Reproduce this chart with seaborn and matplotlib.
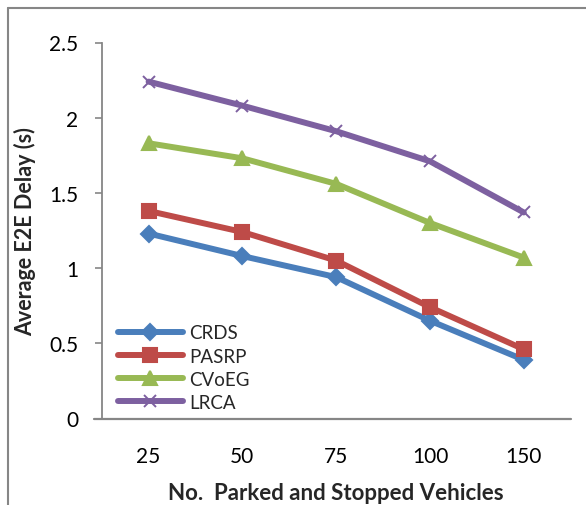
import matplotlib
matplotlib.use("Agg")
import matplotlib.pyplot as plt
from matplotlib.lines import Line2D
import seaborn as sns
import pandas as pd

categories = ["25", "50", "75", "100", "150"]
crds = [1.23, 1.08, 0.94, 0.65, 0.39]
pasrp = [1.38, 1.24, 1.05, 0.74, 0.46]
cvoeg = [1.83, 1.73, 1.56, 1.30, 1.07]
lrca = [2.24, 2.08, 1.91, 1.71, 1.37]
series_names = ["CRDS", "PASRP", "CVoEG", "LRCA"]
y_ticks = [0, 0.5, 1, 1.5, 2, 2.5]
y_tick_labels = ["0", "0.5", "1", "1.5", "2", "2.5"]

rows = []
for name, vals in zip(series_names, [crds, pasrp, cvoeg, lrca]):
    for c, v in zip(categories, vals):
        rows.append({"x": c, "y": v, "series": name})
df = pd.DataFrame(rows)

sns.set_theme(style="white")
plt.rcParams["font.family"] = ["Lato", "DejaVu Sans"]

colors = {"CRDS": "#4A7EBB", "PASRP": "#BE4B48", "CVoEG": "#98B954", "LRCA": "#7D60A0"}
markers = {"CRDS": "D", "PASRP": "s", "CVoEG": "^", "LRCA": "x"}
msizes = {"CRDS": 8.5, "PASRP": 10, "CVoEG": 10.5, "LRCA": 9}

fig = plt.figure(figsize=(5.86, 5.06), dpi=100)
ax = fig.add_axes([101.7 / 586, 1 - 419.5 / 506, 469 / 586, (419.5 - 43.5) / 506])

for name in series_names:
    sub = df[df["series"] == name]
    sns.lineplot(data=sub, x="x", y="y", ax=ax, color=colors[name],
                 marker=markers[name], markersize=msizes[name],
                 markeredgecolor=colors[name], markeredgewidth=1.5 if name != "LRCA" else 1.4,
                 linewidth=4.3, label=name, sort=False, solid_capstyle="round")

ax.set_xlim(-0.5, 4.5)
ax.set_ylim(0, 2.5)
ax.set_yticks(y_ticks)
ax.set_yticklabels(y_tick_labels)
ax.set_xticks(range(len(categories)))
ax.set_xticklabels(categories)

gray = "#868686"
for s in ["top", "right", "bottom"]:
    ax.spines[s].set_visible(False)
ax.spines["left"].set_color(gray)
ax.spines["left"].set_linewidth(1.3)
ax.plot([-8 / 469, 1], [0, 0], transform=ax.transAxes, color=gray, lw=1.6, clip_on=False)

ax.tick_params(axis="y", left=True, length=5, width=1.2, color=gray, labelsize=15, pad=12, labelcolor="black")
ax.tick_params(axis="x", bottom=False, labelsize=15, pad=14, labelcolor="black")

ax.set_xlabel("No.  Parked and Stopped Vehicles", fontsize=16, fontweight="bold", labelpad=11)
ax.set_ylabel("Average E2E Delay (s)", fontsize=15.5, fontweight="bold", labelpad=9)
ax.grid(False)

leg = ax.legend(loc="lower left", bbox_to_anchor=(0.01, -0.01), frameon=False,
                fontsize=13.5, handlelength=3.5, handletextpad=0.3, labelspacing=0.33,
                borderaxespad=0.2)

# outer frame (left and top edges)
fig.add_artist(Line2D([8 / 586, 8 / 586], [0, 1 - 9 / 506], transform=fig.transFigure, color=gray, lw=1.5))
fig.add_artist(Line2D([8 / 586, 1], [1 - 9 / 506, 1 - 9 / 506], transform=fig.transFigure, color=gray, lw=1.5))

fig.savefig("out.png", dpi=100)
